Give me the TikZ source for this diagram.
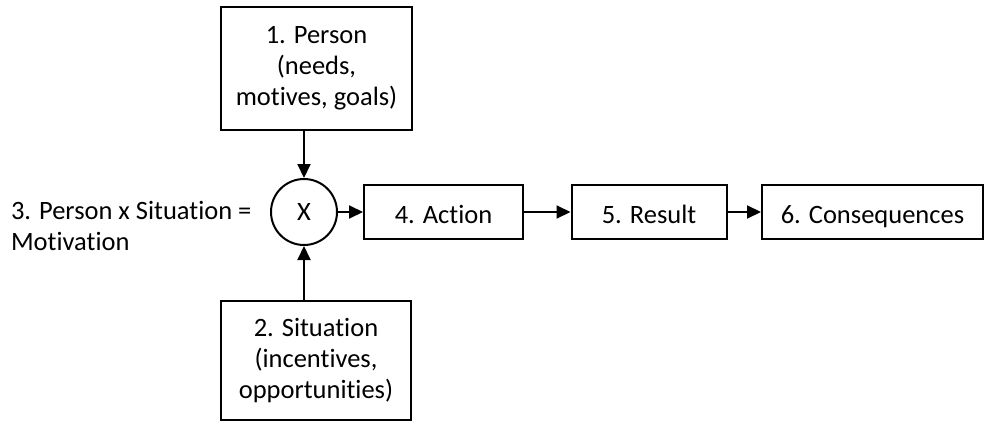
\documentclass[tikz,border=0pt]{standalone}
\usepackage{fontspec}
\setmainfont[Ligatures=NoCommon]{Carlito}
\usetikzlibrary{arrows.meta}
\begin{document}
\begin{tikzpicture}[x=1pt, y=-1pt,
  every node/.style={font=\fontsize{26.5}{31}\selectfont, text=black, line width=2pt},
  box/.style={draw, rectangle, align=center, inner sep=0pt},
  onerow/.style={box, minimum height=54pt, text height=22pt, text depth=0pt},
  mult/.style={draw, circle, minimum size=66pt, inner sep=0pt},
  arr/.style={line width=2pt, -{Triangle[length=14pt, width=13pt]}}]
  \useasboundingbox (0,0) rectangle (993,421);

  % inputs
  \node[box, minimum width=191pt, minimum height=123pt] (person) at (316.5,68)
    {1. Person\\(needs,\\motives, goals)};
  \node[box, minimum width=190pt, minimum height=119pt] (situation) at (316,360.5)
    {2. Situation\\(incentives,\\opportunities)};

  % interaction
  \node[mult] (mult) at (304,212) {X};
  \node[anchor=west, align=left, inner sep=0pt] (label) at (10,226)
    {3. Person x Situation =\\Motivation};

  % chain
  \node[onerow, minimum width=159pt] (action) at (443.5,212) {4. Action};
  \node[onerow, minimum width=155pt] (result) at (649,212) {5. Result};
  \node[onerow, minimum width=221pt] (cons) at (872.5,212) {6. Consequences};

  \draw[arr] (mult.north |- person.south) -- (mult.north);
  \draw[arr] (mult.south |- situation.north) -- (mult.south);
  \draw[arr] (mult.east) -- (action.west);
  \draw[arr] (action.east) -- (result.west);
  \draw[arr] (result.east) -- (cons.west);
\end{tikzpicture}
\end{document}
